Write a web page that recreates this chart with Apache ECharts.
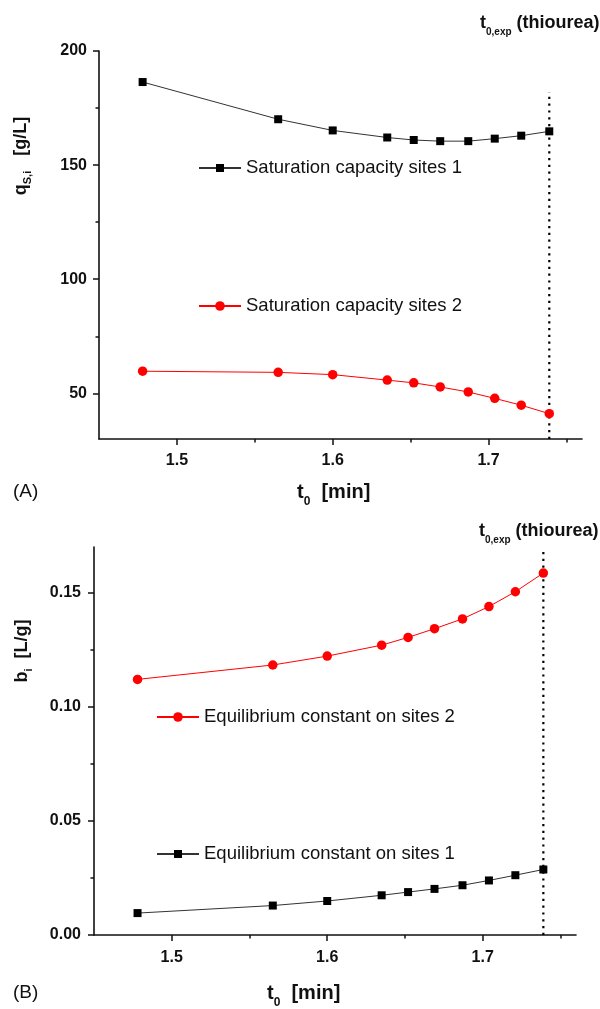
<!DOCTYPE html>
<html>
<head>
<meta charset="utf-8">
<script src="https://cdn.jsdelivr.net/npm/echarts@6/dist/echarts.min.js"></script>
<style>
  html, body { margin: 0; padding: 0; background: #fff; }
  #chart { width: 600px; height: 1009px; }
</style>
</head>
<body>
<div id="chart"></div>
<script>
// dead time t0 used for each fit [min]
const t0Values = [1.478, 1.565, 1.600, 1.635, 1.652, 1.669, 1.687, 1.704, 1.721, 1.739];
// saturation capacities q_S,i [g/L]
const qSites1 = [186.4, 170.1, 165.2, 162.1, 161.0, 160.5, 160.5, 161.6, 162.9, 164.8];
const qSites2 = [59.7, 59.2, 58.2, 55.8, 54.6, 52.8, 50.6, 47.8, 44.8, 41.1];
// equilibrium constants b_i [L/g]
const bSites1 = [0.0096, 0.0129, 0.0149, 0.0174, 0.0188, 0.0202, 0.0218, 0.0239, 0.0262, 0.0287];
const bSites2 = [0.1120, 0.1183, 0.1222, 0.1270, 0.1304, 0.1342, 0.1385, 0.1439, 0.1504, 0.1586];
// experimental dead time (thiourea) and the extent of its marker line in each panel
const t0Thiourea = 1.739;
const markerSpanQ = [30, 182];
const markerSpanB = [0, 0.168];
// axis ranges and tick values
const t0Range = [1.45, 1.76];
const t0Ticks = [1.5, 1.6, 1.7];
const t0MinorTicks = [1.55, 1.65, 1.75];
const qRange = [30, 200];
const qTicks = [50, 100, 150, 200];
const qMinorTicks = [75, 125, 175];
const bRange = [0, 0.17];
const bTicks = [0, 0.05, 0.10, 0.15];
const bMinorTicks = [0.025, 0.075, 0.125];

const names = {
  q1: 'Saturation capacity sites 1',
  q2: 'Saturation capacity sites 2',
  b1: 'Equilibrium constant on sites 1',
  b2: 'Equilibrium constant on sites 2'
};

const FONT = "'Liberation Sans', Arial, Helvetica, sans-serif";
const INK = '#111';
const RED = '#ff0000';

function pairs(xs, ys) { return xs.map((x, i) => [x, ys[i]]); }

// major axis: line, long ticks and labels
function majorAxis(position, gridIndex, range, ticks, fmt, margin) {
  return {
    type: 'value', gridIndex, position, min: range[0], max: range[1],
    axisLine: { show: true, onZero: false, lineStyle: { color: INK, width: 1.6 } },
    axisTick: { show: true, inside: false, length: 6, customValues: ticks, lineStyle: { color: INK, width: 1.5 } },
    axisLabel: { show: true, customValues: ticks, formatter: fmt, margin,
      color: INK, fontFamily: FONT, fontWeight: 'bold', fontSize: 16 },
    splitLine: { show: false }
  };
}
// overlay axis on the same side, carrying only the short minor ticks
function minorAxis(position, gridIndex, range, ticks) {
  return {
    type: 'value', gridIndex, position, offset: 0, min: range[0], max: range[1],
    axisLine: { show: false, onZero: false },
    axisTick: { show: true, inside: false, length: 3.5, customValues: ticks, lineStyle: { color: INK, width: 1.5 } },
    axisLabel: { show: false },
    splitLine: { show: false }
  };
}

function dataSeries(name, xi, yi, xs, ys, symbol, size, color, lineColor) {
  return {
    name, type: 'line', xAxisIndex: xi, yAxisIndex: yi,
    data: pairs(xs, ys), symbol, symbolSize: size, showSymbol: true,
    itemStyle: { color, borderWidth: 0 },
    lineStyle: { color: lineColor, width: 1 },
    z: 3
  };
}

function markerSeries(xi, yi, span) {
  return {
    name: 't0,exp', type: 'line', xAxisIndex: xi, yAxisIndex: yi,
    data: [[t0Thiourea, span[0]], [t0Thiourea, span[1]]],
    symbol: 'none', silent: true,
    lineStyle: { color: '#000', width: 2.2, type: [2.2, 4.6] },
    z: 2
  };
}

function legendAt(name, left, top, itemHeight) {
  return {
    data: [name], left, top, padding: 0, orient: 'horizontal',
    itemWidth: 42, itemHeight, selectedMode: false,
    textStyle: { fontFamily: FONT, fontSize: 18.5, color: INK, lineHeight: 20 }
  };
}

function richLabel(parts, x, y, opts) {
  return Object.assign({
    type: 'text', x, y, silent: true,
    style: Object.assign({ fill: INK, font: '18px ' + FONT }, parts)
  }, opts || {});
}

const chart = echarts.init(document.getElementById('chart'), null, { renderer: 'canvas' });

chart.setOption({
  animation: false,
  backgroundColor: '#fff',
  grid: [
    { left: 99, top: 51, width: 483, height: 388 },
    { left: 94, top: 547, width: 482, height: 388 }
  ],
  xAxis: [
    majorAxis('bottom', 0, t0Range, t0Ticks, v => v.toFixed(1), 14),
    minorAxis('bottom', 0, t0Range, t0MinorTicks),
    majorAxis('bottom', 1, t0Range, t0Ticks, v => v.toFixed(1), 15),
    minorAxis('bottom', 1, t0Range, t0MinorTicks)
  ],
  yAxis: [
    majorAxis('left', 0, qRange, qTicks, v => String(v), 12),
    minorAxis('left', 0, qRange, qMinorTicks),
    majorAxis('left', 1, bRange, bTicks, v => v.toFixed(2), 13),
    minorAxis('left', 1, bRange, bMinorTicks)
  ],
  legend: [
    legendAt(names.q1, 198, 158, 10),
    legendAt(names.q2, 198, 296, 12),
    legendAt(names.b2, 156, 707, 12),
    legendAt(names.b1, 156, 844, 10)
  ],
  series: [
    markerSeries(1, 1, markerSpanQ),
    dataSeries(names.q1, 0, 0, t0Values, qSites1, 'rect', 8, '#000', '#333'),
    dataSeries(names.q2, 0, 0, t0Values, qSites2, 'circle', 9.5, RED, RED),
    markerSeries(3, 3, markerSpanB),
    dataSeries(names.b2, 2, 2, t0Values, bSites2, 'circle', 9.5, RED, RED),
    dataSeries(names.b1, 2, 2, t0Values, bSites1, 'rect', 8, '#000', '#333')
  ],
  graphic: [
    // panel A
    richLabel({
      text: '{m|t}{s|0,exp}{m| (thiourea)}',
      align: 'left', verticalAlign: 'middle',
      rich: {
        m: { fontFamily: FONT, fontWeight: 'bold', fontSize: 18, fill: INK },
        s: { fontFamily: FONT, fontWeight: 'bold', fontSize: 10, fill: INK, padding: [18, 0, 0, 0] }
      }
    }, 480, 23),
    richLabel({
      text: '{m|q}{s|S,i}{m|   [g/L]}',
      align: 'center', verticalAlign: 'middle',
      rich: {
        m: { fontFamily: FONT, fontWeight: 'bold', fontSize: 18, fill: INK },
        s: { fontFamily: FONT, fontWeight: 'bold', fontSize: 11, fill: INK, padding: [14, 0, 0, 0] }
      }
    }, 21, 156, { rotation: Math.PI / 2 }),
    richLabel({
      text: '{m|t}{s|0}{m|  [min]}',
      align: 'left', verticalAlign: 'middle',
      rich: {
        m: { fontFamily: FONT, fontWeight: 'bold', fontSize: 20, fill: INK },
        s: { fontFamily: FONT, fontWeight: 'bold', fontSize: 12, fill: INK, padding: [20, 0, 0, 0] }
      }
    }, 297, 492),
    richLabel({ text: '(A)', align: 'left', verticalAlign: 'middle',
      font: '19px ' + FONT, fill: INK }, 13, 492),
    // panel B
    richLabel({
      text: '{m|t}{s|0,exp}{m| (thiourea)}',
      align: 'left', verticalAlign: 'middle',
      rich: {
        m: { fontFamily: FONT, fontWeight: 'bold', fontSize: 18, fill: INK },
        s: { fontFamily: FONT, fontWeight: 'bold', fontSize: 10, fill: INK, padding: [18, 0, 0, 0] }
      }
    }, 479, 531),
    richLabel({
      text: '{m|b}{s|i}{m|  [L/g]}',
      align: 'center', verticalAlign: 'middle',
      rich: {
        m: { fontFamily: FONT, fontWeight: 'bold', fontSize: 18, fill: INK },
        s: { fontFamily: FONT, fontWeight: 'bold', fontSize: 11, fill: INK, padding: [14, 0, 0, 0] }
      }
    }, 22, 651, { rotation: Math.PI / 2 }),
    richLabel({
      text: '{m|t}{s|0}{m|  [min]}',
      align: 'left', verticalAlign: 'middle',
      rich: {
        m: { fontFamily: FONT, fontWeight: 'bold', fontSize: 20, fill: INK },
        s: { fontFamily: FONT, fontWeight: 'bold', fontSize: 12, fill: INK, padding: [20, 0, 0, 0] }
      }
    }, 267, 993),
    richLabel({ text: '(B)', align: 'left', verticalAlign: 'middle',
      font: '19px ' + FONT, fill: INK }, 13, 993)
  ]
});
</script>
</body>
</html>
